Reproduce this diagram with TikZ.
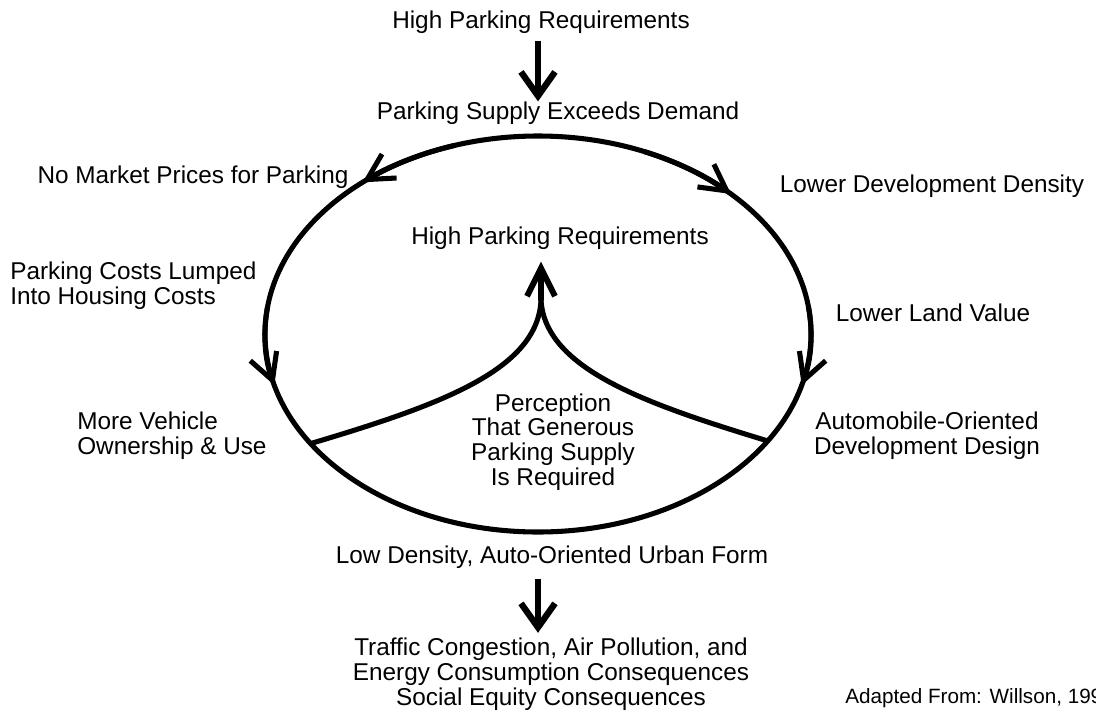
\documentclass[tikz,border=0pt]{standalone}
\usepackage{fontspec}
\setmainfont{Liberation Sans}
\usetikzlibrary{positioning, arrows.meta}

\begin{document}
\begin{tikzpicture}[
    x=0.025cm, y=-0.025cm,
    txt/.style={inner sep=0pt, align=center, font=\fontsize{17.3}{17.6}\selectfont},
    loopline/.style={line width=3.6pt},
    flow/.style={line width=4.5pt, -{Straight Barb[length=0.6cm, width=0.85cm]}},
    turn/.style={line width=3.6pt, -{Straight Barb[length=0.65cm, width=0.7cm]}},
    looparc/.style={x radius=273, y radius=198},
]
    \useasboundingbox (0,0) rectangle (1096,711);
    \fill[white] (0,0) rectangle (1096,711);

    % The loop
    \coordinate (c) at (538,334);
    \draw[loopline] (c) ellipse [looparc];

    % Direction marks on the loop
    \draw[turn] (c) ++(252:273 and 198) arc[looparc, start angle=252, end angle=230];
    \draw[turn] (c) ++(293:273 and 198) arc[looparc, start angle=293, end angle=315];
    \draw[turn] (c) ++(188:273 and 198) arc[looparc, start angle=188, end angle=165];
    \draw[turn] (c) ++(-8:273 and 198) arc[looparc, start angle=-8, end angle=15];

    % Labels
    \node[txt] (topreq) at (541,22) {High Parking Requirements};
    \node[txt] (supply) at (558,113) {Parking Supply Exceeds Demand};
    \node[txt] (prices) at (193,177) {No Market Prices for Parking};
    \node[txt] (density) at (932,186) {Lower Development Density};
    \node[txt] (innerreq) at (560,238) {High Parking Requirements};
    \node[txt, align=left, anchor=west] (lumped) at (10,286) {Parking Costs Lumped\\Into Housing Costs};
    \node[txt] (landvalue) at (933,313) {Lower Land Value};
    \node[txt, align=left, anchor=west] (vehicle) at (77,436) {More Vehicle\\Ownership \& Use};
    \node[txt] (perception) at (553,442) {Perception\\That Generous\\Parking Supply\\Is Required};
    \node[txt] (autodesign) at (927,436) {Automobile-Oriented\\Development Design};
    \node[txt] (urbanform) at (552,557) {Low Density, Auto-Oriented Urban Form};
    \node[txt] (effects) at (551,674) {Traffic Congestion, Air Pollution, and\\Energy Consumption Consequences\\Social Equity Consequences};
    \node[txt, anchor=west, font=\fontsize{14.7}{17}\selectfont] (source) at (845,698) {Adapted From: Willson, 199};

    % Perception fork joining the loop
    \path (c) ++(146.4:273 and 198) coordinate (lj);
    \path (c) ++(32.7:273 and 198) coordinate (rj);
    \coordinate (fork) at (541,300);
    \draw[loopline] (lj) .. controls (440,405) and (538,370) .. (fork);
    \draw[loopline] (rj) .. controls (650,405) and (545,370) .. (fork);
    \draw[line width=4.2pt, -{Straight Barb[length=0.7cm, width=0.7cm]}, shorten >=0.3cm]
        (fork) -- (fork |- innerreq.south);

    % Cause and effect arrows
    \draw[flow, shorten <=0.18cm] (topreq.south -| c) -- (supply.north -| c);
    \draw[flow, shorten <=0.25cm, shorten >=0.12cm] (urbanform.south -| c) -- (effects.north -| c);
\end{tikzpicture}
\end{document}
